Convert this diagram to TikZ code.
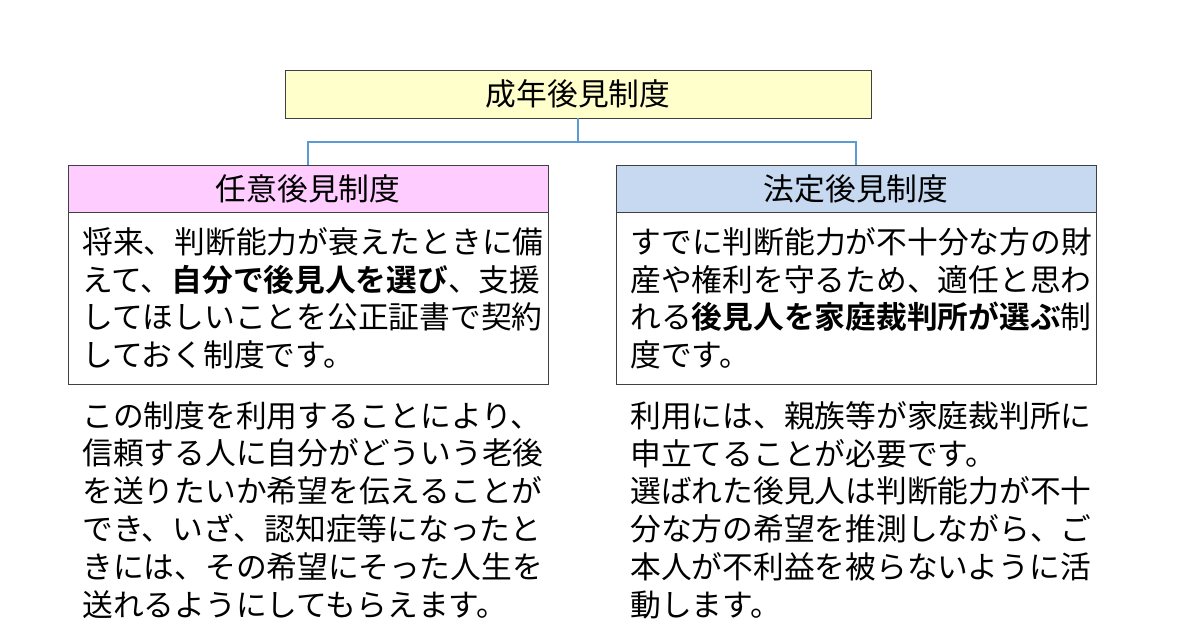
\documentclass[tikz,border=0pt]{standalone}
\usepackage{fontspec}
\setmainfont{Noto Sans CJK JP}[BoldFont={Noto Sans CJK JP Bold}]
\usetikzlibrary{positioning}
\definecolor{titleyellow}{HTML}{FFFFCC}
\definecolor{headpink}{HTML}{FFCCFF}
\definecolor{headblue}{HTML}{C6D9F1}
\definecolor{linkblue}{HTML}{5B9BD5}
\definecolor{boxgray}{HTML}{404040}
\tikzset{
  headbox/.style={draw=boxgray, minimum width=9.6cm, minimum height=0.94cm, inner sep=0pt},
  bodybox/.style={draw=boxgray, anchor=north west, text width=9.04cm, inner xsep=0.28cm, inner ysep=0pt,
                  minimum height=3.44cm, align=left},
  notetext/.style={anchor=north west, text width=9.2cm, inner xsep=0.28cm, inner ysep=0pt, align=left},
  link/.style={draw=linkblue, line width=0.6pt}
}
\begin{document}
\begin{tikzpicture}[x=0.02cm, y=-0.02cm, font=\fontsize{17.5}{21.5}\selectfont]
	\useasboundingbox (0,0) rectangle (1196,623);

	\node[draw=boxgray, fill=titleyellow, minimum width=11.72cm, minimum height=0.96cm, inner sep=0pt] (root) at (578,94) {成年後見制度};

	\node[headbox, fill=headpink] (nini) at (308,188.5) {任意後見制度};
	\node[headbox, fill=headblue] (hotei) at (856,188.5) {法定後見制度};

	\node[bodybox] (ninibody) at (68,212) {将来、判断能力が衰えたときに備\\えて、\textbf{自分で後見人を選び}、支援\\してほしいことを公正証書で契約\\しておく制度です。};
	\node[bodybox] (hoteibody) at (616,212) {すでに判断能力が不十分な方の財\\産や権利を守るため、適任と思わ\\れる\textbf{後見人を家庭裁判所が選ぶ}制\\度です。};

	\node[notetext] (nininote) at (68,401) {この制度を利用することにより、\\信頼する人に自分がどういう老後\\を送りたいか希望を伝えることが\\でき、いざ、認知症等になったと\\きには、その希望にそった人生を\\送れるようにしてもらえます。};
	\node[notetext] (hoteinote) at (616,401) {利用には、親族等が家庭裁判所に\\申立てることが必要です。\\選ばれた後見人は判断能力が不十\\分な方の希望を推測しながら、ご\\本人が不利益を被らないように活\\動します。};

	\coordinate (fork) at (578,142);
	\draw[link] (root.south) -- (fork);
	\draw[link] (nini.north) |- (fork) -| (hotei.north);
\end{tikzpicture}
\end{document}
